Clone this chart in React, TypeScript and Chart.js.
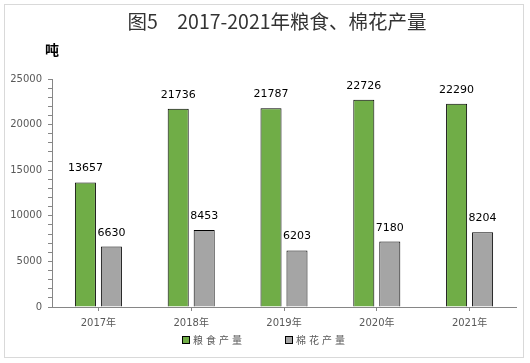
import React, { useEffect, useRef } from "react";
import { Chart, registerables } from "chart.js";

Chart.register(...registerables);

const categories = ["2017年", "2018年", "2019年", "2020年", "2021年"];
const grainValues = [13657, 21736, 21787, 22726, 22290];
const cottonValues = [6630, 8453, 6203, 7180, 8204];
const seriesNames = ["粮食产量", "棉花产量"];
const seriesColors = ["#70AD47", "#A5A5A5"];
const titleText = "图5　2017-2021年粮食、棉花产量";
const unitText = "吨";

const NUM_FONT = '"DejaVu Sans", "Noto Sans CJK SC", sans-serif';
const CJK_FONT = '"Noto Sans CJK SC", "DejaVu Sans", sans-serif';

const decorPlugin = {
  id: "decor",
  beforeDraw(chart: any) {
    const ctx = chart.ctx;
    ctx.save();
    ctx.fillStyle = "#ffffff";
    ctx.fillRect(0, 0, chart.width, chart.height);
    ctx.strokeStyle = "#D9D9D9";
    ctx.lineWidth = 1;
    ctx.strokeRect(4.5, 4.5, 519, 353);
    ctx.restore();
  },
  afterDatasetsDraw(chart: any) {
    const ctx = chart.ctx;
    ctx.save();
    ctx.font = `11px ${NUM_FONT}`;
    ctx.fillStyle = "#000000";
    ctx.textAlign = "center";
    ctx.textBaseline = "alphabetic";
    chart.data.datasets.forEach((ds: any, di: number) => {
      const meta = chart.getDatasetMeta(di);
      meta.data.forEach((bar: any, i: number) => {
        ctx.fillText(String(ds.data[i]), bar.x, bar.y - 11);
      });
    });
    ctx.restore();
  },
  afterDraw(chart: any) {
    const ctx = chart.ctx;
    ctx.save();
    // title
    ctx.font = `19.5px ${CJK_FONT}`;
    ctx.fillStyle = "#333333";
    ctx.textAlign = "center";
    ctx.textBaseline = "middle";
    ctx.fillText(titleText, 277, 22);
    // unit
    ctx.font = `bold 14px ${CJK_FONT}`;
    ctx.fillStyle = "#000000";
    ctx.textAlign = "left";
    ctx.fillText(unitText, 45, 50);
    // legend
    const boxX = [182, 285];
    ctx.font = `10px ${CJK_FONT}`;
    (ctx as any).letterSpacing = "3px";
    seriesNames.forEach((name, i) => {
      ctx.fillStyle = seriesColors[i];
      ctx.fillRect(boxX[i], 336, 8, 8);
      ctx.strokeStyle = "#000000";
      ctx.lineWidth = 1;
      ctx.strokeRect(boxX[i] + 0.5, 336.5, 7, 7);
      ctx.fillStyle = "#595959";
      ctx.textBaseline = "middle";
      ctx.fillText(name, boxX[i] + 11, 340);
    });
    ctx.restore();
  },
};

export default function App() {
  const ref = useRef<HTMLCanvasElement | null>(null);
  useEffect(() => {
    if (!ref.current) return;
    const chart = new Chart(ref.current, {
      type: "bar",
      data: {
        labels: categories,
        datasets: [
          {
            label: seriesNames[0],
            data: grainValues,
            backgroundColor: seriesColors[0],
            borderColor: "#000000",
            borderWidth: 1,
            categoryPercentage: 0.56,
            barPercentage: 0.81,
          },
          {
            label: seriesNames[1],
            data: cottonValues,
            backgroundColor: seriesColors[1],
            borderColor: "#000000",
            borderWidth: 1,
            categoryPercentage: 0.56,
            barPercentage: 0.81,
          },
        ],
      },
      options: {
        responsive: false,
        animation: false,
        devicePixelRatio: 1,
        layout: { padding: { left: 0, top: 79, right: 14, bottom: 26 } },
        plugins: {
          legend: { display: false },
          title: { display: false },
          tooltip: { enabled: false },
        },
        scales: {
          x: {
            afterFit: (s: any) => {
              s.height = 30;
            },
            grid: {
              display: true,
              drawOnChartArea: false,
              drawTicks: true,
              tickLength: 4,
              offset: false,
              color: "#868686",
            },
            border: { display: true, color: "#868686" },
            ticks: {
              color: "#595959",
              font: { family: NUM_FONT, size: 10 },
              padding: 6,
              maxRotation: 0,
            },
          },
          y: {
            min: 0,
            max: 25000,
            afterFit: (s: any) => {
              s.width = 52;
            },
            grid: {
              display: true,
              drawOnChartArea: false,
              drawTicks: true,
              tickLength: 4,
              color: "#868686",
            },
            border: { display: true, color: "#868686" },
            ticks: {
              stepSize: 1000,
              maxTicksLimit: 30,
              autoSkip: false,
              color: "#595959",
              font: { family: NUM_FONT, size: 10 },
              padding: 6,
              callback: (v: any) => (Number(v) % 5000 === 0 ? String(v) : ""),
            },
          },
        },
      },
      plugins: [decorPlugin],
    });
    return () => chart.destroy();
  }, []);
  return (
    <div style={{ position: "fixed", left: 0, top: 0, width: 530, height: 363, background: "#fff" }}>
      <canvas ref={ref} width={530} height={363} style={{ width: 530, height: 363, display: "block" }} />
    </div>
  );
}
